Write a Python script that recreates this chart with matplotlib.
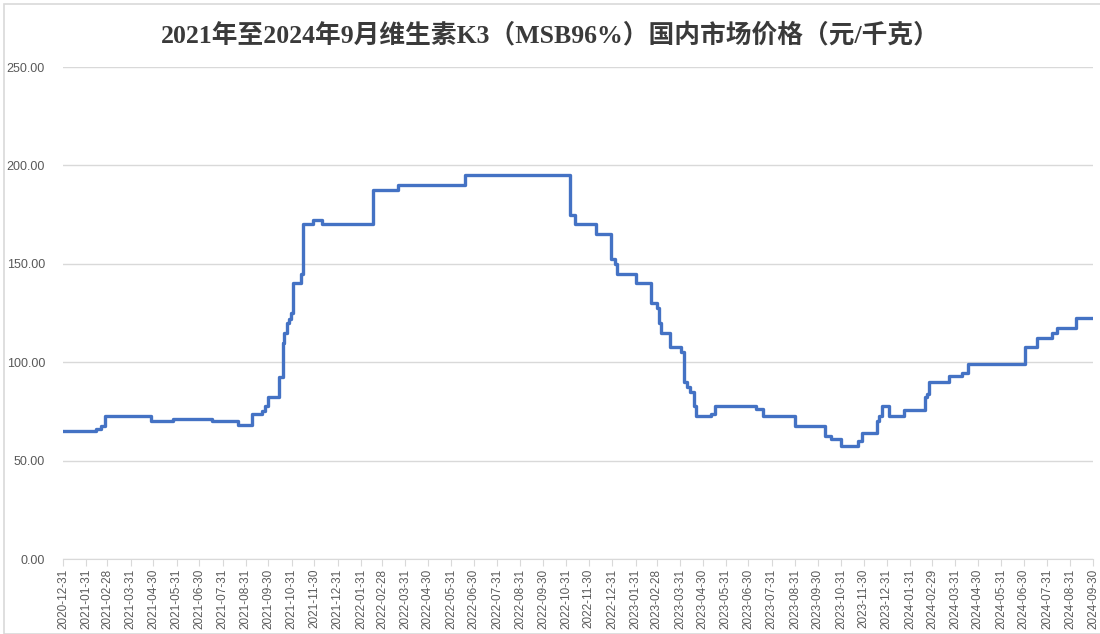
import matplotlib
matplotlib.use("Agg")
import matplotlib.pyplot as plt
import matplotlib.dates as mdates
import pandas as pd
from matplotlib.patches import Rectangle

# price change points (date the new price starts), 元/千克
change_dates = [
    "2020-12-31", "2021-02-07", "2021-02-13", "2021-02-20", "2021-02-25",
    "2021-04-27", "2021-05-26", "2021-07-17", "2021-08-20", "2021-09-08",
    "2021-09-21", "2021-09-25", "2021-09-30", "2021-10-14", "2021-10-19",
    "2021-10-20", "2021-10-21", "2021-10-25", "2021-10-28", "2021-10-30",
    "2021-11-02", "2021-11-12", "2021-11-15", "2021-11-28", "2021-12-10",
    "2022-02-16", "2022-03-21", "2022-06-18", "2022-11-05", "2022-11-11",
    "2022-12-09", "2022-12-30", "2023-01-04", "2023-01-07", "2023-01-31",
    "2023-02-20", "2023-02-28", "2023-03-03", "2023-03-06", "2023-03-18",
    "2023-04-02", "2023-04-06", "2023-04-09", "2023-04-13", "2023-04-19",
    "2023-04-22", "2023-05-11", "2023-05-16", "2023-07-10", "2023-07-19",
    "2023-08-31", "2023-10-10", "2023-10-18", "2023-10-31", "2023-11-22",
    "2023-11-28", "2023-12-18", "2023-12-20", "2023-12-25", "2024-01-03",
    "2024-01-23", "2024-02-20", "2024-02-22", "2024-02-25", "2024-03-23",
    "2024-04-09", "2024-04-17", "2024-07-02", "2024-07-17", "2024-08-06",
    "2024-08-13", "2024-09-07", "2024-09-30",
]
prices = [
    65, 65, 66, 67.5, 72.5,
    70, 71, 70, 68, 73.5,
    75, 77.5, 82.5, 92.5, 95,
    110, 115, 120, 122, 125,
    140, 145, 170, 172.5, 170,
    187.5, 190, 195, 175, 170,
    165, 152.5, 150, 145, 140,
    130, 127.5, 120, 115, 107.5,
    105, 90, 87.5, 85, 77.5,
    72.5, 73.5, 77.5, 76, 72.5,
    67.5, 62.5, 61, 57.5, 60,
    64, 70, 72.5, 77.5, 72.5,
    75.5, 82.5, 84, 90, 93,
    94.5, 99, 107.5, 112.5, 115,
    117.5, 122.5, 122.5,
]

title = "2021年至2024年9月维生素K3（MSB96%）国内市场价格（元/千克）"
y_ticks = [0, 50, 100, 150, 200, 250]

dates = pd.to_datetime(change_dates)
tick_dates = pd.date_range("2020-12-31", "2024-09-30", freq="ME")

fig = plt.figure(figsize=(11, 6.34), dpi=100)
ax = fig.add_axes([63 / 1100, 1 - 559 / 634, 1030 / 1100, 492 / 634])

# light chart border
fig.patches.append(Rectangle((4 / 1100, 0), 1.2, 1 - 4 / 634, transform=fig.transFigure,
                             fill=False, edgecolor="#d9d9d9", linewidth=1.2))

ax.step(dates, prices, where="post", color="#4472c4", linewidth=2.4)

ax.set_xlim(tick_dates[0], tick_dates[-1])
ax.set_ylim(0, 250)
ax.set_yticks(y_ticks)
ax.set_yticklabels([f"{v:.2f}" for v in y_ticks], color="#595959", fontsize=9,
                   family="Liberation Sans")
ax.yaxis.grid(True, color="#d9d9d9", linewidth=1)
ax.set_axisbelow(True)
ax.tick_params(axis="y", length=0, pad=13)

ax.set_xticks(tick_dates)
ax.set_xticklabels([d.strftime("%Y-%m-%d") for d in tick_dates], rotation=90,
                   color="#595959", fontsize=8.5, family="Liberation Sans")
ax.tick_params(axis="x", length=5, color="#d9d9d9", pad=2)

for s in ["top", "right", "left"]:
    ax.spines[s].set_visible(False)
ax.spines["bottom"].set_color("#d9d9d9")

fig.text(0.5, 1 - 35 / 634, title, ha="center", va="center", fontsize=18.5,
         fontweight="bold", color="#3a3a3a",
         family=["Liberation Serif", "Noto Sans CJK SC"])

fig.savefig("out.png", dpi=100)
